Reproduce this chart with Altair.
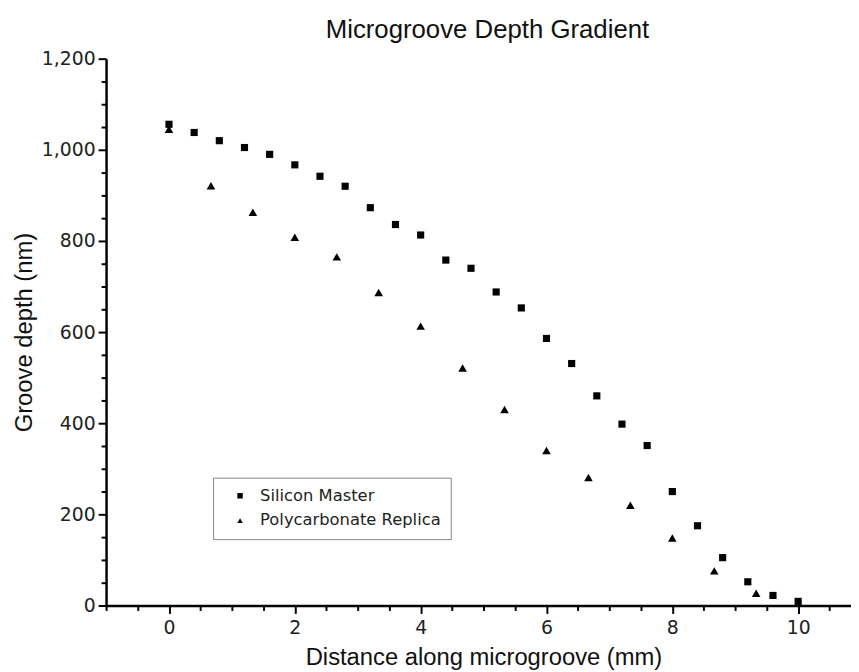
import altair as alt
import pandas as pd

# Silicon Master (squares)
master_x = [0.0, 0.4, 0.8, 1.2, 1.6, 2.0, 2.4, 2.8, 3.2, 3.6, 4.0, 4.4, 4.8,
            5.2, 5.6, 6.0, 6.4, 6.8, 7.2, 7.6, 8.0, 8.4, 8.8, 9.2, 9.6, 10.0]
master_y = [1056, 1038, 1020, 1005, 990, 967, 942, 920, 873, 836, 813, 758, 740,
            688, 653, 586, 531, 460, 398, 351, 250, 175, 105, 52, 22, 9]

# Polycarbonate Replica (triangles)
replica_x = [0.0, 0.667, 1.333, 2.0, 2.667, 3.333, 4.0, 4.667, 5.333, 6.0,
             6.667, 7.333, 8.0, 8.667, 9.333]
replica_y = [1045, 921, 863, 808, 765, 687, 613, 521, 430, 340,
             281, 220, 148, 76, 27]

series_names = ["Silicon Master", "Polycarbonate Replica"]
x_ticks = [v / 2 for v in range(-2, 22)]      # major every 2, minor every 0.5
y_ticks = list(range(0, 1201, 50))            # major every 200, minor every 50

df_master = pd.DataFrame({"x": master_x, "y": master_y, "series": series_names[0]})
df_replica = pd.DataFrame({"x": replica_x, "y": replica_y, "series": series_names[1]})

xscale = alt.Scale(domain=[-1, 10.84], nice=False, zero=False)
yscale = alt.Scale(domain=[0, 1200], nice=False)

x_axis = alt.Axis(
    values=x_ticks,
    labelExpr="(datum.value % 2 === 0) ? format(datum.value, 'd') : ''",
    tickSize={"condition": {"test": "datum.value % 2 === 0", "value": 8}, "value": 5},
    labelPadding=5,
    title="Distance along microgroove (mm)",
    titleX=381, titleY=53, titleBaseline="middle", titleAlign="center",
)
y_axis = alt.Axis(
    values=y_ticks,
    labelExpr="(datum.value % 200 === 0) ? format(datum.value, ',') : ''",
    tickSize={"condition": {"test": "datum.value % 200 === 0", "value": 8}, "value": 5},
    labelPadding=3,
    title="Groove depth (nm)",
    titleX=-82, titleY=276, titleAngle=270, titleBaseline="middle",
    titleAlign="center",
)

shape_scale = alt.Scale(domain=series_names, range=["square", "triangle-up"])
legend = alt.Legend(title=None, orient="none", legendX=108, legendY=423)


def layer(df, size):
    return alt.Chart(df).mark_point(filled=True, color="black", opacity=1,
                                    size=size).encode(
        x=alt.X("x:Q", scale=xscale, axis=x_axis),
        y=alt.Y("y:Q", scale=yscale, axis=y_axis),
        shape=alt.Shape("series:N", scale=shape_scale, legend=legend),
    )


chart = alt.layer(layer(df_master, 52), layer(df_replica, 75)).properties(
    width=752, height=552,
    autosize=alt.AutoSizeParams(type="none"),
    padding={"left": 99, "top": 48, "right": 0, "bottom": 64},
    background="white",
    title=alt.Title("Microgroove Depth Gradient", font="Liberation Sans",
                    fontSize=26, fontWeight="normal", color="#111",
                    anchor="middle", offset=7, dx=9),
).configure_view(
    stroke=None
).configure_axis(
    domainColor="black", domainWidth=2.5, tickColor="black", tickWidth=2,
    grid=False, labelFlush=False, labelOverlap=False,
    labelFont="DejaVu Sans", labelFontSize=19, labelColor="#222",
    titleFont="Liberation Sans", titleFontSize=24, titleFontWeight="normal",
    titleColor="#111",
).configure_legend(
    strokeColor="#888", padding=10, labelLimit=400,
    labelFont="DejaVu Sans", labelFontSize=16.5, labelColor="#222",
    symbolSize=30, symbolFillColor="black", symbolStrokeColor="black",
    symbolStrokeWidth=0, symbolOffset=9, labelOffset=12, rowPadding=8,
)

chart.save("out.html", embed_options={"renderer": "svg", "actions": False})
